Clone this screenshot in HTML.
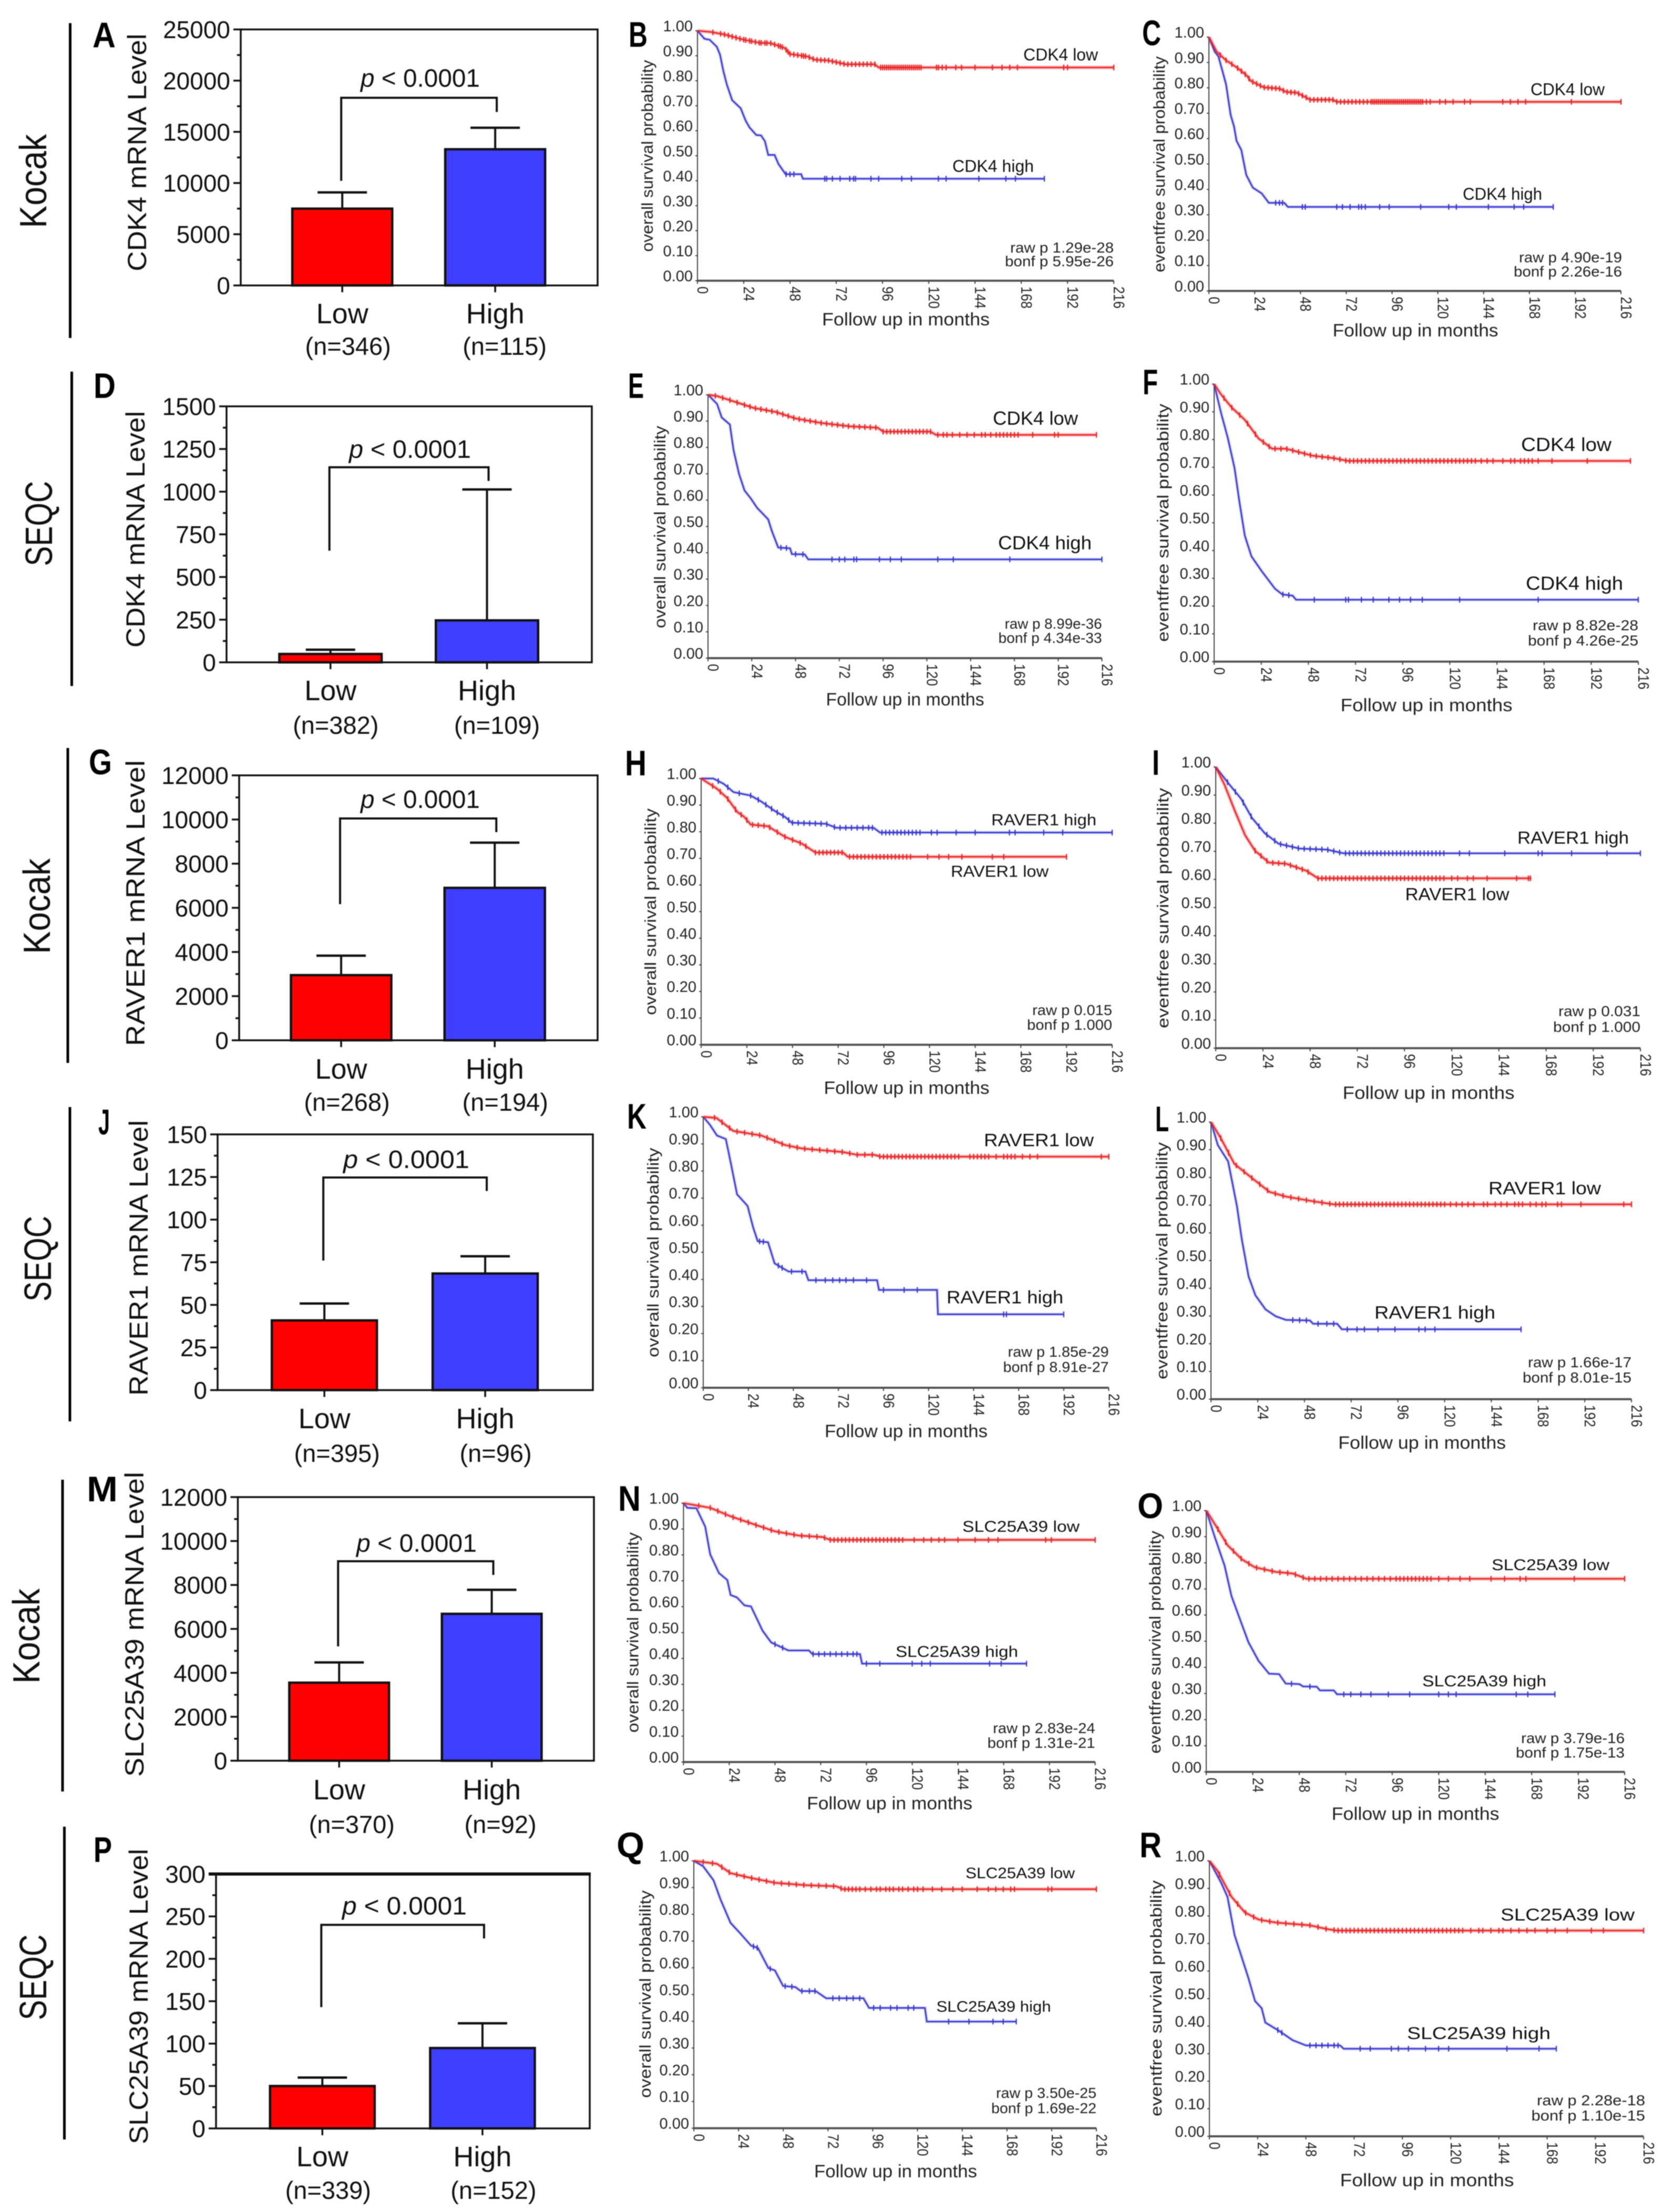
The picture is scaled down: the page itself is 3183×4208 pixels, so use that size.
<!DOCTYPE html>
<html lang="en">
<head>
<meta charset="utf-8">
<title>mRNA level bar charts and Kaplan-Meier survival curves</title>
<style>
html,body{margin:0;padding:0;background:#fff;}
svg{display:block;font-family:"Liberation Sans",sans-serif;}
#figure{filter:blur(0.9px);}
.row-label{font-size:72px;fill:#111;}
.panel-letter{font-size:68px;font-weight:bold;fill:#000;}
</style>
</head>
<body>
<svg width="3183" height="4208" viewBox="0 0 3183 4208">
<rect width="3183" height="4208" fill="#fff"/>
<g id="figure">
  <g>
    <text class="row-label" transform="translate(88,434) rotate(-90)" textLength="179" lengthAdjust="spacingAndGlyphs">Kocak</text>
    <text class="row-label" transform="translate(99,1077) rotate(-90)" textLength="162" lengthAdjust="spacingAndGlyphs">SEQC</text>
    <text class="row-label" transform="translate(95,1815) rotate(-90)" textLength="182" lengthAdjust="spacingAndGlyphs">Kocak</text>
    <text class="row-label" transform="translate(97,2476) rotate(-90)" textLength="163" lengthAdjust="spacingAndGlyphs">SEQC</text>
    <text class="row-label" transform="translate(75,3203) rotate(-90)" textLength="181" lengthAdjust="spacingAndGlyphs">Kocak</text>
    <text class="row-label" transform="translate(88,3843) rotate(-90)" textLength="163" lengthAdjust="spacingAndGlyphs">SEQC</text>
  </g>
  <g stroke="#000" stroke-width="5">
    <line x1="133.5" y1="44" x2="133.5" y2="643"/>
    <line x1="136.5" y1="707" x2="136.5" y2="1305"/>
    <line x1="129" y1="1423" x2="129" y2="2022"/>
    <line x1="133" y1="2106" x2="133" y2="2704"/>
    <line x1="119" y1="2815" x2="119" y2="3408"/>
    <line x1="122.5" y1="3475" x2="122.5" y2="4070"/>
  </g>
  <g>
    <text class="panel-letter" x="176" y="90" textLength="44" lengthAdjust="spacingAndGlyphs">A</text>
    <text class="panel-letter" x="1196" y="89" textLength="36" lengthAdjust="spacingAndGlyphs">B</text>
    <text class="panel-letter" x="2173" y="86" textLength="36" lengthAdjust="spacingAndGlyphs">C</text>
    <text class="panel-letter" x="178" y="757" textLength="42" lengthAdjust="spacingAndGlyphs">D</text>
    <text class="panel-letter" x="1195" y="757" textLength="30" lengthAdjust="spacingAndGlyphs">E</text>
    <text class="panel-letter" x="2174" y="750" textLength="29" lengthAdjust="spacingAndGlyphs">F</text>
    <text class="panel-letter" x="169" y="1473" textLength="44" lengthAdjust="spacingAndGlyphs">G</text>
    <text class="panel-letter" x="1189" y="1475" textLength="41" lengthAdjust="spacingAndGlyphs">H</text>
    <text class="panel-letter" x="2192" y="1474" textLength="14" lengthAdjust="spacingAndGlyphs">I</text>
    <text class="panel-letter" x="187" y="2158" textLength="22" lengthAdjust="spacingAndGlyphs">J</text>
    <text class="panel-letter" x="1193" y="2147" textLength="37" lengthAdjust="spacingAndGlyphs">K</text>
    <text class="panel-letter" x="2198" y="2152" textLength="26" lengthAdjust="spacingAndGlyphs">L</text>
    <text class="panel-letter" x="165" y="2856" textLength="59" lengthAdjust="spacingAndGlyphs">M</text>
    <text class="panel-letter" x="1176" y="2874" textLength="43" lengthAdjust="spacingAndGlyphs">N</text>
    <text class="panel-letter" x="2164" y="2888" textLength="49" lengthAdjust="spacingAndGlyphs">O</text>
    <text class="panel-letter" x="178" y="3542" textLength="35" lengthAdjust="spacingAndGlyphs">P</text>
    <text class="panel-letter" x="1173" y="3533" textLength="53" lengthAdjust="spacingAndGlyphs">Q</text>
    <text class="panel-letter" x="2168" y="3533" textLength="42" lengthAdjust="spacingAndGlyphs">R</text>
  </g>
  <g id="panel-a"></g>
  <g id="panel-b"></g>
  <g id="panel-c"></g>
  <g id="panel-d"></g>
  <g id="panel-e"></g>
  <g id="panel-f"></g>
  <g id="panel-g"></g>
  <g id="panel-h"></g>
  <g id="panel-i"></g>
  <g id="panel-j"></g>
  <g id="panel-k"></g>
  <g id="panel-l"></g>
  <g id="panel-m"></g>
  <g id="panel-n"></g>
  <g id="panel-o"></g>
  <g id="panel-p"></g>
  <g id="panel-q"></g>
  <g id="panel-r"></g>
</g>
</svg>
<script>
/* ---------- shared categories and ticks ---------- */
const barCategories = ["Low", "High"];
const kmMonthTicks = [0, 24, 48, 72, 96, 120, 144, 168, 192, 216];
const kmProbTicks = [0, 0.1, 0.2, 0.3, 0.4, 0.5, 0.6, 0.7, 0.8, 0.9, 1];

/* ---------- bar chart data ---------- */
const aTicks = [0, 5000, 10000, 15000, 20000, 25000];
const aValues = [7500, 13300];
const aErrors = [9086, 15400];
const aBracket = [18326, 10216, 16940];
const aCounts = ["(n=346)", "(n=115)"];

const dTicks = [0, 250, 500, 750, 1000, 1250, 1500];
const dValues = [49, 246];
const dErrors = [74, 1013];
const dBracket = [1143, 654, 1063];
const dCounts = ["(n=382)", "(n=109)"];

const gTicks = [0, 2000, 4000, 6000, 8000, 10000, 12000];
const gValues = [2952, 6905];
const gErrors = [3833, 8952];
const gBracket = [10048, 6167, 9429];
const gCounts = ["(n=268)", "(n=194)"];

const jTicks = [0, 25, 50, 75, 100, 125, 150];
const jValues = [40.9, 68.4];
const jErrors = [50.8, 78.5];
const jBracket = [124.7, 76, 116.8];
const jCounts = ["(n=395)", "(n=96)"];

const mTicks = [0, 2000, 4000, 6000, 8000, 10000, 12000];
const mValues = [3553, 6687];
const mErrors = [4475, 7780];
const mBracket = [9081, 5205, 8459];
const mCounts = ["(n=370)", "(n=92)"];

const pTicks = [0, 50, 100, 150, 200, 250, 300];
const pValues = [50, 94.8];
const pErrors = [60, 124];
const pBracket = [240, 143, 224];
const pCounts = ["(n=339)", "(n=152)"];

/* ---------- survival curve data: months, probability, censor months ---------- */
const bLowMonths = [0,7,14,23,32,38,45,48,57,61,68,77,92,94,216];
const bLowProb = [1,.995,.985,.966,.952,.95,.932,.907,.897,.884,.881,.866,.866,.853,.853];
const bLowCensor = [8,12,14,16,18,20,22,24,25,27,28,30,32,33,35,36,38,40,42,43,44,46,47,48,50,52,54,55,56,58,60,62,64,66,68,70,72,74,76,78,80,82,84,86,88,90,92,95,96,97,98,99,100,101,102,103,104,105,106,107,108,109,110,111,112,113,114,115,116,124,125,127,129,134,137,144,153,158,162,166,190,192,216];
const bHighMonths = [0,3.6,6.3,10,11.7,13.4,15.2,18,22.4,25,27,30.5,33,35,36.7,40,42,45.7,53.8,54.7,180];
const bHighProb = [1,.968,.964,.936,.904,.84,.786,.722,.69,.64,.613,.583,.581,.558,.503,.503,.467,.426,.426,.408,.408];
const bHighCensor = [46,48,50,66,67,70,74,79,81,82,90,94,106,111,125,129,146,160,165,180];

const cLowMonths = [0,4,8.7,15,19.6,22,28.7,37,40.4,46,51,53,65,67,216];
const cLowProb = [1,.943,.91,.878,.85,.827,.802,.797,.784,.781,.762,.753,.753,.745,.745];
const cLowCensor = [6,9,12,15,17,19,21,23,25,27,29,31,33,35,37,39,41,43,45,47,49,51,53,55,57,59,61,63,65,67,69,71,73,75,77,79,81,83,85,86,87,88,89,90,91,92,93,94,95,96,97,98,99,100,101,102,103,104,105,106,107,108,109,110,111,112,114,116,121,124,128,134,137,154,158,162,166,190,216];
const cHighMonths = [0,3,5,7,9,11.4,13.2,14.5,17,19.6,23,27.7,31.4,39.5,41.4,180.5];
const cHighProb = [1,.943,.924,.869,.813,.693,.647,.591,.555,.457,.407,.384,.347,.347,.331,.331];
const cHighCensor = [35,37,38.6,49,50.5,67,70,74,78.5,80,82,89.5,94.5,111,125.7,129.7,146.5,160,165,180.5];

const eLowMonths = [0,5,14,25,37,48,62,78,93,96,122,125,213];
const eLowProb = [1,.995,.975,.95,.935,.91,.893,.88,.875,.86,.86,.848,.848];
const eLowCensor = [4,8,12,16,20,23,26,29,32,35,38,41,44,47,50,53,56,59,62,65,68,71,74,77,80,83,86,89,92,96,98,100,102,104,106,108,110,112,114,116,118,120,122,126,129,131,134,138,142,146,150,152,155,158,160,162,164,166,168,170,178,190,192,213];
const eHighMonths = [0,5,7.5,12,14,17,20,23.5,27,33,35,38.5,45,46,53,55,216];
const eHighProb = [1,.965,.914,.887,.79,.7,.637,.606,.57,.527,.483,.42,.417,.395,.394,.375,.375];
const eHighCensor = [40,43,48,52,68,72,75,80,81.5,94,100,106,126,134.5,165.5,216];

const fLowMonths = [0,3.5,8.7,15.6,22.6,29.5,36.5,50,61,68,212];
const fLowProb = [1,.9625,.917,.871,.804,.767,.767,.742,.733,.723,.723];
const fLowCensor = [5,9,13,17,21,25,28,31,34,37,40,43,46,49,52,55,58,61,64,67,69,71,73,75,77,79,81,83,85,87,89,91,93,95,97,99,101,103,105,107,109,111,113,115,117,119,121,123,125,127,129,131,133,136,139,142,147,151,153,156,158,160,162,165,172,190,212];
const fHighMonths = [0,3.5,7,10.4,12.8,15.6,19,24.3,31,34.7,40,41.7,216];
const fHighProb = [1,.896,.804,.696,.579,.454,.379,.325,.2625,.242,.2375,.223,.223];
const fHighCensor = [35,38,51,67,68.4,75,81,89,94.4,100,106,125,165,216];

const hLowMonths = [0,8.2,13.6,19,22.6,26,35,44,53,60,74.5,77,192];
const hLowProb = [1,.962,.927,.874,.856,.827,.821,.781,.755,.722,.722,.706,.706];
const hLowCensor = [6,10,14,18,21,24,27,30,33,36,40,44,48,52,55,60,62,64,66,68,70,72,74,78,80,82,84,86,88,90,92,94,96,98,100,102,104,106,108,110,119,125,130,137,153,159,192];
const hHighMonths = [0,6.4,11.8,17,26,31.5,38.7,44,47.6,65.5,71,90.6,94,216];
const hHighProb = [1,1,.98,.949,.936,.914,.878,.856,.834,.83,.815,.815,.797,.797];
const hHighCensor = [9,14,20,26,30,34,37,40,43,46,48,51,54,57,60,63,66,70,73,76,79,82,85,88,90,95,97,99,101,103,105,107,109,111,113,115,121,124,134,144,162,165,180,190,216];

const iLowMonths = [0,4.5,9.7,15,20,27,35.7,46,52,160.5];
const iLowProb = [1,.936,.844,.756,.702,.66,.656,.631,.604,.604];
const iLowCensor = [20,23,26,29,32,35,38,41,44,47,52,54,56,58,60,62,64,66,68,70,72,74,76,78,80,82,84,86,88,90,92,94,96,98,100,102,104,106,108,110,112,114,116,120,123,128,131,138,153,159,160];
const iHighMonths = [0,6.2,13,18.4,25,32,42.6,56.5,65,216];
const iHighProb = [1,.944,.886,.819,.764,.727,.71,.706,.693,.693];
const iHighCensor = [6,10,14,18,22,26,30,33,36,39,42,45,48,51,54,57,60,63,66,68,70,72,74,76,78,80,82,84,86,88,90,92,94,96,98,100,102,104,106,108,110,112,114,116,124,129,147,164,166,181,199,216];

const kLowMonths = [0,7,16,31,43.5,52.6,74.4,81.7,91,94.4,216];
const kLowProb = [1,.996,.948,.931,.896,.883,.87,.86,.86,.853,.853];
const kLowCensor = [6,10,14,18,22,26,30,34,38,42,46,50,54,58,62,66,70,74,78,82,86,90,94,96,98,100,102,104,106,108,110,112,114,116,118,120,122,124,126,128,130,132,134,136,142,144,146,148,150,152,156,160,162,164,166,170,174,178,212,216];
const kHighMonths = [0,3.6,7.3,12,14.5,18,23.6,26.5,29,34.5,38,45.4,54.4,56,92.6,93.6,124.5,125,192];
const kHighProb = [1,.97,.931,.918,.835,.714,.671,.593,.541,.537,.459,.429,.429,.397,.397,.361,.361,.271,.271];
const kHighCensor = [30,32,40,42,47,52.6,60,65,69,72.6,76,80,87,96,107,114,160,161.5,192];

const lLowMonths = [0,5,12,21,30,38.5,52.5,63,216];
const lLowProb = [1,.942,.849,.798,.748,.731,.714,.703,.703];
const lLowCensor = [5,9,13,17,21,25,29,33,37,41,45,49,53,57,61,64,66,68,70,72,74,76,78,80,82,84,86,88,90,92,94,96,98,100,102,104,106,108,110,112,114,116,118,120,123,126,129,132,135,140,142,146,149,152,156,158,160,164,167,170,172,178,180,190,212,216];
const lHighMonths = [0,3.5,8.8,13.3,15.8,19.3,22.8,28,33.3,38.5,50.8,52.5,64.8,67.2,159.3];
const lHighProb = [1,.917,.858,.697,.578,.443,.375,.324,.299,.286,.284,.272,.272,.252,.252];
const lHighCensor = [42,45.5,49,55,59.5,63,70,75,78.8,85.8,94.5,106.8,110,115,159.3];

const nLowMonths = [0,14,24.7,39,48,60.4,73,77,216];
const nLowProb = [1,.982,.949,.913,.891,.875,.869,.858,.858];
const nLowCensor = [8,14,18,22,26,30,34,38,42,46,50,54,58,62,66,70,74,77,79,81,83,85,87,89,91,93,95,97,99,101,103,105,107,109,111,113,115,121,126,130,134,137,144,153,160,165,190,193,216];
const nHighMonths = [0,2,6.8,11.4,14,18.6,23,24.7,28,32,35.4,41.5,46,55,65.8,67.6,92.6,93.7,180];
const nHighProb = [1,.982,.98,.909,.802,.73,.703,.645,.636,.605,.601,.507,.462,.431,.431,.417,.417,.38,.38];
const nHighCensor = [48,52,68,71,74,77,80,83,86,89,91,96,103,120,125,129.5,160.6,166.7,180];

const oLowMonths = [0,6,11,18.3,25,36,44.7,51.7,216];
const oLowProb = [1,.929,.867,.814,.783,.765,.759,.739,.739];
const oLowCensor = [6,10,14,18,22,26,30,34,38,42,46,50,53,56,59,62,65,68,71,74,77,80,83,86,89,92,95,98,100,102,104,106,108,110,112,114,116,120,125,131,136,147,154,162,165,190,216];
const oHighMonths = [0,4.2,9.5,13,18.3,21.8,27,32.4,37.6,41,48,50,57,58.7,65.8,67.5,180];
const oHighProb = [1,.903,.788,.673,.566,.496,.425,.376,.374,.338,.336,.327,.326,.312,.312,.297,.297];
const oHighCensor = [44,53.5,71,74.6,79.8,85,94,105,120,125,129,160,166,180];

const qLowMonths = [0,12.4,19.7,30.7,43.5,60,76.4,80,216];
const qLowProb = [1,.989,.954,.936,.918,.909,.905,.894,.894];
const qLowCensor = [5,10,15,19,23,27,31,35,39,43,47,51,55,59,63,67,71,75,79,81,83,85,87,89,92,95,98,100,103,105,107,110,112,115,118,120,123,128,133,139,144,152,158,162,166,170,172,190,192,216];
const qHighMonths = [0,5,10.6,14.3,19.7,25,30.7,34.4,40,43.5,47.9,54.5,57.4,65.4,71,91,94,124,125,173];
const qHighProb = [1,.98,.927,.856,.768,.728,.683,.674,.599,.59,.532,.528,.513,.513,.486,.486,.45,.45,.399,.399];
const qHighCensor = [32,34,41,49,52.6,58,62,65,74.6,78,82,85.5,89,96.5,100,105.6,109,115,118,136.7,147.6,160.5,166,173];

const rLowMonths = [0,4,11,17.6,24.4,33,50,58,63.4,216];
const rLowProb = [1,.964,.869,.813,.787,.776,.766,.753,.747,.747];
const rLowCensor = [5,10,14,18,22,26,30,34,38,42,46,50,54,58,62,64,66,68,70,72,74,76,78,80,82,84,86,88,90,92,94,96,98,100,102,104,106,108,110,112,114,116,118,120,122,124,126,130,134,136,140,144,146,150,154,158,162,168,172,178,190,196,216];
const rHighMonths = [0,5.8,9,12.5,19.3,22.7,26,27.8,34.6,41.4,48,65,66.8,172.6];
const rHighProb = [1,.921,.869,.731,.577,.491,.465,.413,.383,.349,.33,.33,.318,.318];
const rHighCensor = [34,36,50,53,56,59,62,64,75,80,90.5,94,99,107.5,114,119,148,164,172.6];

/* ---------- helpers ---------- */
const SVG_NS = 'http://www.w3.org/2000/svg';
function mk(parent, tag, attrs) {
  const el = document.createElementNS(SVG_NS, tag);
  for (const k in attrs) el.setAttribute(k, attrs[k]);
  parent.appendChild(el);
  return el;
}

/* ---------- bar chart ---------- */
function drawBarChart(id, L, ticks, values, errors, bracket, counts) {
  const g = document.getElementById('panel-' + id);
  const maxV = ticks[ticks.length - 1];
  const yV = v => L.b - (v / maxV) * (L.b - L.t);
  const xCat = i => L.l + (L.r - L.l) * (0.2845 + i * 0.4285);
  const bw = (L.r - L.l) * 0.28;

  const frame = mk(g, 'rect', {x: L.l, y: L.t, width: L.r - L.l, height: L.b - L.t, fill: 'none', stroke: '#111', 'stroke-width': 3.5});
  
  
  if (L.topW) {
    const topLine = mk(g, 'line', {x1: L.l - 14, x2: L.r + 2, y1: L.t, y2: L.t, stroke: '#111', 'stroke-width': L.topW});
    
    
  }

  ticks.forEach((t, i) => {
    const tickLine = mk(g, 'line', {x1: L.l - 14, x2: L.l, y1: yV(t), y2: yV(t), stroke: '#111', 'stroke-width': 3.5});
    
    
    const label = mk(g, 'text', {x: L.l - 20, y: yV(t) + 16.5, 'text-anchor': 'end', 'font-size': 46, fill: '#111'});
    label.textContent = String(t);
    
    
    if (i < ticks.length - 1) {
      const mid = (t + ticks[i + 1]) / 2;
      const minor = mk(g, 'line', {x1: L.l - 7, x2: L.l, y1: yV(mid), y2: yV(mid), stroke: '#111', 'stroke-width': 3.5});
      
      
    }
  });

  const title = mk(g, 'text', {transform: 'translate(' + (L.titleX + 18) + ',' + L.titleBottom + ') rotate(-90)', textLength: L.titleBottom - L.titleTop, lengthAdjust: 'spacingAndGlyphs', 'font-size': 50, fill: '#111'});
  title.textContent = L.title;
  
  

  const fills = ['#ff0000', '#3e3eff'];
  barCategories.forEach((cat, i) => {
    const cx = xCat(i);
    const err = mk(g, 'line', {x1: cx, x2: cx, y1: yV(errors[i]), y2: yV(values[i]), stroke: '#111', 'stroke-width': 4});
    
    
    const cap = mk(g, 'line', {x1: cx - 47, x2: cx + 47, y1: yV(errors[i]), y2: yV(errors[i]), stroke: '#111', 'stroke-width': 4.5});
    
    
    const bar = mk(g, 'rect', {x: cx - bw / 2, y: yV(values[i]), width: bw, height: L.b - yV(values[i]), fill: fills[i], stroke: '#111', 'stroke-width': 4.5});
    
    
    const xTick = mk(g, 'line', {x1: cx, x2: cx, y1: L.b, y2: L.b + 13, stroke: '#111', 'stroke-width': 3.5});
    
    
    const catLabel = mk(g, 'text', {x: cx, y: L.labelY, 'text-anchor': 'middle', 'font-size': 54, fill: '#111'});
    catLabel.textContent = cat;
    
    
    const nLabel = mk(g, 'text', {x: cx + L.nOffsets[i], y: L.nY, 'text-anchor': 'middle', 'font-size': 47, fill: '#111'});
    nLabel.textContent = counts[i];
    
    
  });

  const xA = xCat(0) - 2, xB = xCat(1) + 3;
  const br = mk(g, 'path', {d: 'M' + xA + ' ' + yV(bracket[1]) + 'V' + yV(bracket[0]) + 'H' + xB + 'V' + yV(bracket[2]), fill: 'none', stroke: '#111', 'stroke-width': 4});
  
  

  const pText = mk(g, 'text', {x: L.pX, y: L.pY, textLength: L.pW, lengthAdjust: 'spacingAndGlyphs', 'font-size': 48, fill: '#111'});
  const pItalic = mk(pText, 'tspan', {'font-style': 'italic'});
  pItalic.textContent = 'p';
  pText.appendChild(document.createTextNode(' < 0.0001'));
  
  
}

/* ---------- survival chart ---------- */
function interpolateCurve(months, probs, m) {
  if (m <= months[0]) return probs[0];
  for (let i = 1; i < months.length; i++) {
    if (m <= months[i]) {
      const f = (m - months[i - 1]) / ((months[i] - months[i - 1]) || 1);
      return probs[i - 1] + f * (probs[i] - probs[i - 1]);
    }
  }
  return probs[probs.length - 1];
}

function drawSurvivalChart(id, L, lowMonths, lowProb, lowCensor, highMonths, highProb, highCensor) {
  const g = document.getElementById('panel-' + id);
  const xM = m => L.x0 + (m / 216) * (L.x216 - L.x0);
  const yP = p => L.y0 - p * (L.y0 - L.y1);

  const yAxis = mk(g, 'line', {x1: L.x0, x2: L.x0, y1: L.y1, y2: L.y0, stroke: '#444', 'stroke-width': 2});
  
  
  const xAxis = mk(g, 'line', {x1: L.x0, x2: L.x216, y1: L.y0, y2: L.y0, stroke: '#555', 'stroke-width': 4});
  
  

  kmProbTicks.forEach(p => {
    const tickLine = mk(g, 'line', {x1: L.x0 - 4, x2: L.x0, y1: yP(p), y2: yP(p), stroke: '#444', 'stroke-width': 2});
    
    
    const label = mk(g, 'text', {x: L.x0 - 9, y: yP(p) + 1, 'text-anchor': 'end', 'font-size': 29, fill: '#222'});
    label.textContent = p.toFixed(2);
    
    
  });
  kmMonthTicks.forEach(m => {
    const tickLine = mk(g, 'line', {x1: xM(m), x2: xM(m), y1: L.y0, y2: L.y0 + 6, stroke: '#444', 'stroke-width': 2});
    
    
    const str = String(m);
    const label = mk(g, 'text', {transform: 'translate(' + xM(m) + ',' + (L.y0 + 11) + ') rotate(90)', textLength: str.length * 14, lengthAdjust: 'spacingAndGlyphs', 'font-size': 29, fill: '#222'});
    label.textContent = str;
    
    
  });

  const yTitle = mk(g, 'text', {transform: 'translate(' + (L.titleX + 10) + ',' + L.titleBottom + ') rotate(-90)', textLength: L.titleBottom - L.titleTop, lengthAdjust: 'spacingAndGlyphs', 'font-size': 31, fill: '#222'});
  yTitle.textContent = L.title;
  
  
  const xTitle = mk(g, 'text', {x: L.xlabelX - L.xlabelW / 2, y: L.xlabelY, textLength: L.xlabelW, lengthAdjust: 'spacingAndGlyphs', 'font-size': 34, fill: '#222'});
  xTitle.textContent = 'Follow up in months';
  
  

  const linePath = (ms, ps) => ms.map((m, i) => (i ? 'L' : 'M') + xM(m).toFixed(1) + ' ' + yP(ps[i]).toFixed(1)).join('');

  const highHalo = mk(g, 'path', {d: linePath(highMonths, highProb), fill: 'none', stroke: 'rgba(60,60,220,0.28)', 'stroke-width': 6});
  
  
  const highLine = mk(g, 'path', {d: linePath(highMonths, highProb), fill: 'none', stroke: '#3434d4', 'stroke-width': 2.5});
  
  
  highCensor.forEach(m => {
    const yy = yP(interpolateCurve(highMonths, highProb, m));
    const mark = mk(g, 'line', {x1: xM(m), x2: xM(m), y1: yy - 5.5, y2: yy + 5.5, stroke: '#3434d4', 'stroke-width': 2.2});
    
    
  });

  const lowHalo = mk(g, 'path', {d: linePath(lowMonths, lowProb), fill: 'none', stroke: 'rgba(255,30,30,0.32)', 'stroke-width': 7});
  
  
  const lowLine = mk(g, 'path', {d: linePath(lowMonths, lowProb), fill: 'none', stroke: '#ee2020', 'stroke-width': 2.5});
  
  
  lowCensor.forEach(m => {
    const yy = yP(interpolateCurve(lowMonths, lowProb, m));
    const mark = mk(g, 'line', {x1: xM(m), x2: xM(m), y1: yy - 5.5, y2: yy + 5.5, stroke: '#ee2020', 'stroke-width': 2.2});
    
    
  });

  const lowLabel = mk(g, 'text', {x: L.lowX, y: L.lowY, textLength: L.lowW, lengthAdjust: 'spacingAndGlyphs', 'font-size': L.legendSize, fill: '#111'});
  lowLabel.textContent = L.lowText;
  
  
  const highLabel = mk(g, 'text', {x: L.highX, y: L.highY, textLength: L.highW, lengthAdjust: 'spacingAndGlyphs', 'font-size': L.legendSize, fill: '#111'});
  highLabel.textContent = L.highText;
  
  

  const raw = mk(g, 'text', {x: L.statRight - L.rawW, y: L.rawY, textLength: L.rawW, lengthAdjust: 'spacingAndGlyphs', 'font-size': 28, fill: '#222'});
  raw.textContent = L.rawText;
  
  
  const bonf = mk(g, 'text', {x: L.statRight - L.bonfW, y: L.bonfY, textLength: L.bonfW, lengthAdjust: 'spacingAndGlyphs', 'font-size': 28, fill: '#222'});
  bonf.textContent = L.bonfText;
  
  
}

/* ---------- draw panels ---------- */
drawBarChart('a', {l:458,r:1137,t:56,b:543,title:'CDK4 mRNA Level',titleX:260,titleTop:64,titleBottom:516,labelY:615,nY:675,nOffsets:[11,18],pX:686,pW:227,pY:165}, aTicks, aValues, aErrors, aBracket, aCounts);
drawBarChart('d', {l:431,r:1126,t:773,b:1260,title:'CDK4 mRNA Level',titleX:257,titleTop:782,titleBottom:1232,labelY:1332,nY:1396,nOffsets:[10,19],pX:664,pW:232,pY:871}, dTicks, dValues, dErrors, dBracket, dCounts);
drawBarChart('g', {l:455,r:1137,t:1475,b:1979,title:'RAVER1 mRNA Level',titleX:257,titleTop:1446,titleBottom:1990,labelY:2052,nY:2113,nOffsets:[11,20],pX:686,pW:227,pY:1537}, gTicks, gValues, gErrors, gBracket, gCounts);
drawBarChart('j', {l:414,r:1128,t:2158,b:2644.5,title:'RAVER1 mRNA Level',titleX:263,titleTop:2131,titleBottom:2655,labelY:2717,nY:2781,nOffsets:[24,20],pX:653,pW:240,pY:2222}, jTicks, jValues, jErrors, jBracket, jCounts);
drawBarChart('m', {l:452.5,r:1130,t:2848,b:3349.5,title:'SLC25A39 mRNA Level',titleX:255,titleTop:2800,titleBottom:3380,labelY:3423,nY:3487,nOffsets:[24,16.5],pX:678,pW:229,pY:2952}, mTicks, mValues, mErrors, mBracket, mCounts);
drawBarChart('p', {l:411,r:1122,t:3565,b:4049,topW:6,title:'SLC25A39 mRNA Level',titleX:263,titleTop:3517,titleBottom:4079,labelY:4121,nY:4183,nOffsets:[11,21],pX:651,pW:237,pY:3642}, pTicks, pValues, pErrors, pBracket, pCounts);

const OS = 'overall survival probability';
const EF = 'eventfree survival probability';
drawSurvivalChart('b', {x0:1327,x216:2119,y0:534,y1:58.5,title:OS,titleX:1232,titleTop:114,titleBottom:479,xlabelX:1723.5,xlabelW:319,xlabelY:619,legendSize:32,lowText:'CDK4 low',lowX:1947,lowW:142,lowY:115,highText:'CDK4 high',highX:1812,highW:155,highY:327,statRight:2119,rawText:'raw p 1.29e-28',rawW:197,rawY:480.5,bonfText:'bonf p 5.95e-26',bonfW:207,bonfY:506.5}, bLowMonths,bLowProb,bLowCensor,bHighMonths,bHighProb,bHighCensor);
drawSurvivalChart('c', {x0:2300,x216:3084,y0:553.5,y1:70.5,title:EF,titleX:2206,titleTop:107,titleBottom:518,xlabelX:2693,xlabelW:315,xlabelY:640,legendSize:32,lowText:'CDK4 low',lowX:2912,lowW:141,lowY:181,highText:'CDK4 high',highX:2783,highW:151,highY:380,statRight:3086,rawText:'raw p 4.90e-19',rawW:196,rawY:499,bonfText:'bonf p 2.26e-16',bonfW:206,bonfY:526}, cLowMonths,cLowProb,cLowCensor,cHighMonths,cHighProb,cHighCensor);
drawSurvivalChart('e', {x0:1347,x216:2096.5,y0:1252,y1:751,title:OS,titleX:1256,titleTop:810,titleBottom:1195,xlabelX:1722,xlabelW:301,xlabelY:1342,legendSize:36,lowText:'CDK4 low',lowX:1889,lowW:162,lowY:808,highText:'CDK4 high',highX:1899,highW:178,highY:1045,statRight:2096.5,rawText:'raw p 8.99e-36',rawW:185,rawY:1196,bonfText:'bonf p 4.34e-33',bonfW:197,bonfY:1223}, eLowMonths,eLowProb,eLowCensor,eHighMonths,eHighProb,eHighCensor);
drawSurvivalChart('f', {x0:2310,x216:3117,y0:1258.6,y1:730.6,title:EF,titleX:2213,titleTop:768,titleBottom:1221,xlabelX:2714,xlabelW:327,xlabelY:1353,legendSize:36,lowText:'CDK4 low',lowX:2894,lowW:172,lowY:858,highText:'CDK4 high',highX:2903,highW:185,highY:1122,statRight:3117,rawText:'raw p 8.82e-28',rawW:201,rawY:1199,bonfText:'bonf p 4.26e-25',bonfW:210,bonfY:1228}, fLowMonths,fLowProb,fLowCensor,fHighMonths,fHighProb,fHighCensor);
drawSurvivalChart('h', {x0:1334,x216:2116,y0:1987.5,y1:1481,title:OS,titleX:1238,titleTop:1538,titleBottom:1931,xlabelX:1725,xlabelW:315,xlabelY:2081,legendSize:31,lowText:'RAVER1 low',lowX:1809,lowW:186,lowY:1668,highText:'RAVER1 high',highX:1886,highW:200,highY:1570,statRight:2116,rawText:'raw p 0.015',rawW:152,rawY:1931,bonfText:'bonf p 1.000',bonfW:162,bonfY:1959}, hLowMonths,hLowProb,hLowCensor,hHighMonths,hHighProb,hHighCensor);
drawSurvivalChart('i', {x0:2313,x216:3121,y0:1994,y1:1459,title:EF,titleX:2213,titleTop:1499,titleBottom:1956,xlabelX:2718,xlabelW:327,xlabelY:2090.5,legendSize:33,lowText:'RAVER1 low',lowX:2673.5,lowW:198,lowY:1712.5,highText:'RAVER1 high',highX:2887,highW:212,highY:1605,statRight:3121,rawText:'raw p 0.031',rawW:156,rawY:1933,bonfText:'bonf p 1.000',bonfW:166,bonfY:1963}, iLowMonths,iLowProb,iLowCensor,iHighMonths,iHighProb,iHighCensor);
drawSurvivalChart('k', {x0:1338,x216:2109.5,y0:2640,y1:2124.6,title:OS,titleX:1243,titleTop:2183.6,titleBottom:2582,xlabelX:1724,xlabelW:310,xlabelY:2734,legendSize:34,lowText:'RAVER1 low',lowX:1872,lowW:209,lowY:2180.5,highText:'RAVER1 high',highX:1801,highW:222,highY:2479.5,statRight:2109.5,rawText:'raw p 1.85e-29',rawW:192,rawY:2581,bonfText:'bonf p 8.91e-27',bonfW:201,bonfY:2610}, kLowMonths,kLowProb,kLowCensor,kHighMonths,kHighProb,kHighCensor);
drawSurvivalChart('l', {x0:2304,x216:3104,y0:2661.7,y1:2134.5,title:EF,titleX:2211,titleTop:2173,titleBottom:2624,xlabelX:2705.6,xlabelW:319,xlabelY:2756,legendSize:34,lowText:'RAVER1 low',lowX:2832,lowW:214,lowY:2272,highText:'RAVER1 high',highX:2615,highW:230,highY:2508.5,statRight:3104,rawText:'raw p 1.66e-17',rawW:197,rawY:2601,bonfText:'bonf p 8.01e-15',bonfW:207,bonfY:2630}, lLowMonths,lLowProb,lLowCensor,lHighMonths,lHighProb,lHighCensor);
drawSurvivalChart('n', {x0:1300.4,x216:2083.6,y0:3352,y1:2859.5,title:OS,titleX:1204.5,titleTop:2915,titleBottom:3296,xlabelX:1692.6,xlabelW:315,xlabelY:3442,legendSize:30,lowText:'SLC25A39 low',lowX:1831,lowW:223,lowY:2914,highText:'SLC25A39 high',highX:1704,highW:233,highY:3152,statRight:2083.6,rawText:'raw p 2.83e-24',rawW:194.5,rawY:3297,bonfText:'bonf p 1.31e-21',bonfW:205,bonfY:3325}, nLowMonths,nLowProb,nLowCensor,nHighMonths,nHighProb,nHighCensor);
drawSurvivalChart('o', {x0:2295,x216:3091,y0:3370.8,y1:2873.6,title:EF,titleX:2198,titleTop:2912,titleBottom:3336,xlabelX:2693,xlabelW:319,xlabelY:3462,legendSize:30,lowText:'SLC25A39 low',lowX:2838,lowW:224,lowY:2987,highText:'SLC25A39 high',highX:2706,highW:236,highY:3208,statRight:3091,rawText:'raw p 3.79e-16',rawW:197,rawY:3316,bonfText:'bonf p 1.75e-13',bonfW:207,bonfY:3343.5}, oLowMonths,oLowProb,oLowCensor,oHighMonths,oHighProb,oHighCensor);
drawSurvivalChart('q', {x0:1320,x216:2086,y0:4048.6,y1:3540,title:OS,titleX:1228,titleTop:3596,titleBottom:3991,xlabelX:1704,xlabelW:310,xlabelY:4142,legendSize:29,lowText:'SLC25A39 low',lowX:1837,lowW:208,lowY:3573,highText:'SLC25A39 high',highX:1781.5,highW:218,highY:3827,statRight:2086,rawText:'raw p 3.50e-25',rawW:191,rawY:3991,bonfText:'bonf p 1.69e-22',bonfW:200,bonfY:4020}, qLowMonths,qLowProb,qLowCensor,qHighMonths,qHighProb,qHighCensor);
drawSurvivalChart('r', {x0:2301,x216:3127,y0:4064,y1:3540,title:EF,titleX:2200,titleTop:3577,titleBottom:4026,xlabelX:2715,xlabelW:331,xlabelY:4159,legendSize:32,lowText:'SLC25A39 low',lowX:2855,lowW:255,lowY:3653.5,highText:'SLC25A39 high',highX:2677,highW:273,highY:3879,statRight:3130,rawText:'raw p 2.28e-18',rawW:206,rawY:4005,bonfText:'bonf p 1.10e-15',bonfW:216.5,bonfY:4034}, rLowMonths,rLowProb,rLowCensor,rHighMonths,rHighProb,rHighCensor);
</script>
</body>
</html>
